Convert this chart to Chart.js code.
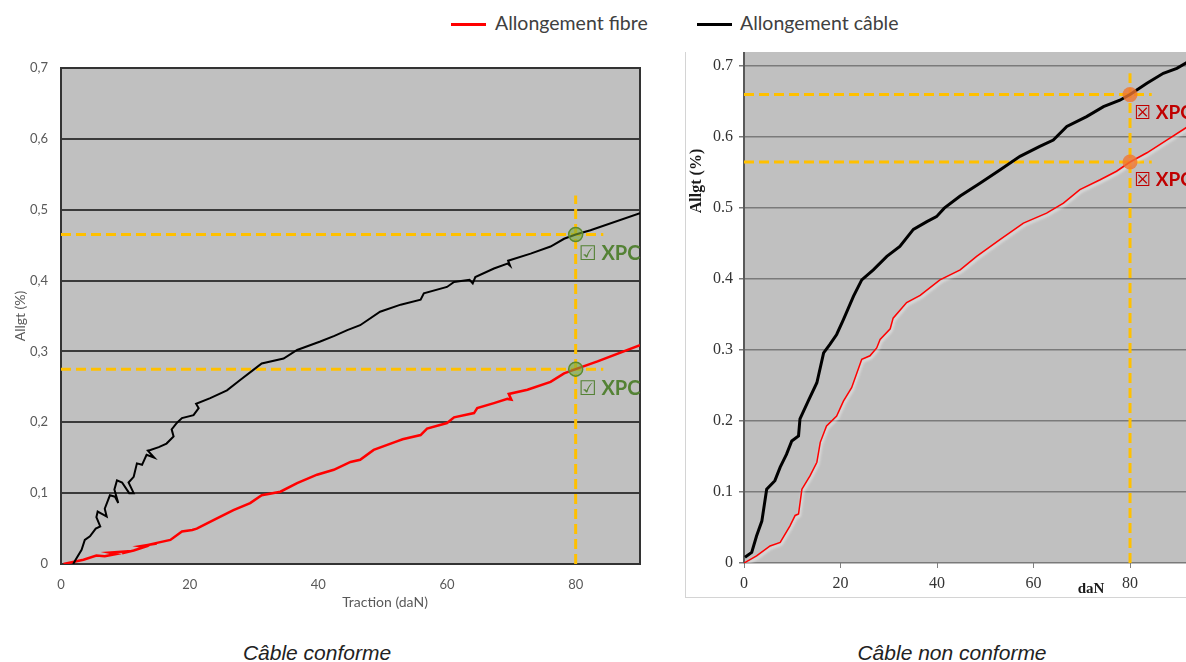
<!DOCTYPE html>
<html lang="fr">
<head>
<meta charset="utf-8">
<title>Allongement fibre / câble</title>
<script src="https://cdn.jsdelivr.net/npm/chart.js@4.4.1/dist/chart.umd.min.js"></script>
<style>
  html, body { margin: 0; padding: 0; background: #fff; }
  #page { position: relative; width: 1186px; height: 662px; overflow: hidden; }
  .legend-line { position: absolute; top: 23px; width: 35px; height: 3px; }
  .legend-text { position: absolute; top: 12px; font: 19.5px Lato, sans-serif; line-height: 22px; color: #404040; white-space: nowrap; }
  .caption { position: absolute; top: 641px; width: 400px; text-align: center; font: italic 21px "Liberation Sans", Arial, sans-serif; line-height: 24px; color: #222; }
  #leftBox { position: absolute; left: 0; top: 50px; width: 660px; height: 565px; }
  #rightFrame { position: absolute; left: 685px; top: 52px; width: 501px; height: 545px; border-left: 1px solid #d4d4d4; border-bottom: 1px solid #d4d4d4; }
  #rightBox { position: absolute; left: 686px; top: 52px; width: 500px; height: 545px; }
</style>
</head>
<body>
<div id="page">
  <div class="legend-line" style="left:451px; background:#ff0000;"></div>
  <div class="legend-text" style="left:495px;">Allongement fibre</div>
  <div class="legend-line" style="left:697px; background:#000;"></div>
  <div class="legend-text" style="left:740px;">Allongement câble</div>

  <div id="leftBox"><canvas id="chartConforme"></canvas></div>
  <div id="rightFrame"></div>
  <div id="rightBox"><canvas id="chartNonConforme"></canvas></div>

  <div class="caption" style="left:117px;">Câble conforme</div>
  <div class="caption" style="left:752px;">Câble non conforme</div>
</div>

<script>
// ===== DONNÉES =====
const tractionTicks = [0, 20, 40, 60, 80];
const allgtTicks = [0, 0.1, 0.2, 0.3, 0.4, 0.5, 0.6, 0.7];
const seuilTraction = 80;

// Câble conforme
const cableConformeX = [1.9, 2.2, 3.2, 3.7, 4.5, 5.4, 6.1, 5.5, 5.7, 6.5, 7.1, 6.8, 7.6, 8.4, 8.9, 8.3, 8.7, 9.5, 10.6, 11.3, 10.5, 11.3, 11.8, 12.6, 13.3, 14.5, 13.5, 13.9, 15.2, 16.4, 17.5, 17.2, 18.0, 18.8, 20.6, 21.4, 21.0, 23.2, 25.8, 27.9, 29.9, 31.2, 34.6, 36.7, 40.3, 42.5, 44.5, 46.5, 49.6, 52.8, 55.9, 56.4, 60.0, 61.1, 63.5, 64.0, 64.4, 67.3, 69.4, 69.8, 69.5, 73.0, 76.1, 78.2, 80.0, 82.3, 90.0];
const cableConformeY = [0, 0.005, 0.02, 0.034, 0.039, 0.05, 0.053, 0.066, 0.074, 0.07, 0.067, 0.078, 0.097, 0.095, 0.086, 0.105, 0.118, 0.115, 0.1, 0.1, 0.115, 0.123, 0.142, 0.14, 0.154, 0.15, 0.16, 0.161, 0.165, 0.17, 0.18, 0.19, 0.199, 0.206, 0.21, 0.22, 0.226, 0.234, 0.245, 0.26, 0.274, 0.283, 0.29, 0.302, 0.314, 0.322, 0.33, 0.337, 0.356, 0.366, 0.373, 0.382, 0.391, 0.398, 0.401, 0.396, 0.405, 0.417, 0.424, 0.421, 0.428, 0.438, 0.448, 0.459, 0.465, 0.471, 0.495];
const fibreConformeX = [0.4, 3.5, 5.5, 6.8, 8.5, 7.5, 10.5, 9.5, 11.3, 13.0, 12.3, 14.9, 13.5, 17.0, 18.8, 20.4, 21.1, 23.7, 26.8, 29.4, 31.2, 34.1, 36.7, 39.8, 42.4, 45.0, 46.5, 48.6, 52.2, 53.1, 55.9, 56.9, 60.0, 61.1, 64.2, 64.7, 67.3, 69.4, 70.0, 69.6, 72.5, 76.1, 78.2, 80.0, 83.4, 90.0];
const fibreConformeY = [0, 0.006, 0.012, 0.011, 0.014, 0.016, 0.018, 0.015, 0.019, 0.024, 0.025, 0.029, 0.027, 0.034, 0.046, 0.048, 0.05, 0.062, 0.076, 0.086, 0.097, 0.102, 0.114, 0.126, 0.133, 0.144, 0.147, 0.161, 0.173, 0.176, 0.182, 0.191, 0.199, 0.207, 0.213, 0.22, 0.227, 0.233, 0.232, 0.24, 0.246, 0.257, 0.269, 0.275, 0.286, 0.309];
const pointsConformeY = [0.465, 0.275];

// Câble non conforme
const cableNonConformeX = [0.2, 1.6, 2.6, 3.7, 4.7, 6.4, 7.5, 8.8, 9.9, 11.3, 11.6, 13.3, 15.1, 16.5, 17.8, 19.2, 20.6, 22.7, 24.4, 26.8, 29.6, 32.3, 35.1, 37.9, 39.9, 41.5, 44.8, 48.9, 53.1, 57.2, 61.3, 64.1, 66.9, 71.0, 74.5, 77.9, 80.0, 83.5, 86.9, 89.7, 92.0];
const cableNonConformeY = [0.008, 0.015, 0.038, 0.059, 0.104, 0.116, 0.135, 0.153, 0.172, 0.179, 0.203, 0.228, 0.254, 0.296, 0.308, 0.322, 0.343, 0.376, 0.399, 0.413, 0.432, 0.446, 0.47, 0.481, 0.488, 0.5, 0.517, 0.535, 0.554, 0.573, 0.587, 0.596, 0.615, 0.629, 0.643, 0.652, 0.66, 0.676, 0.69, 0.697, 0.706];
const fibreNonConformeX = [0, 2.6, 5.4, 7.5, 9.5, 10.6, 11.3, 12.0, 13.7, 15.1, 15.8, 17.1, 19.2, 20.6, 22.3, 24.4, 26.1, 27.5, 28.2, 30.3, 30.9, 33.7, 36.5, 40.6, 44.8, 48.2, 53.1, 57.9, 62.7, 66.2, 69.6, 73.8, 77.2, 80.0, 83.5, 87.6, 92.0];
const fibreNonConformeY = [0, 0.01, 0.024, 0.029, 0.052, 0.067, 0.069, 0.104, 0.123, 0.142, 0.17, 0.193, 0.207, 0.228, 0.247, 0.287, 0.292, 0.303, 0.315, 0.33, 0.345, 0.367, 0.377, 0.399, 0.413, 0.432, 0.456, 0.479, 0.493, 0.507, 0.526, 0.54, 0.552, 0.565, 0.578, 0.596, 0.615];
const pointsNonConformeY = [0.66, 0.565];

// ===== HELPERS =====
function toXY(xs, ys) {
  return xs.map((x, i) => ({ x: x, y: ys[i] }));
}

function seuilY(values) {
  return values.map((v) => ({ x: seuilTraction, y: v }));
}

function guideDatasets(seuils, topY, endX) {
  const style = { borderColor: "#ffc000", borderWidth: 3, borderDash: [10, 5], pointRadius: 0, order: 2 };
  const sets = seuils.map((v) => Object.assign({ data: [{ x: 0, y: v }, { x: endX, y: v }] }, style));
  sets.push(Object.assign({ data: [{ x: seuilTraction, y: 0 }, { x: seuilTraction, y: topY }] }, style));
  return sets;
}

// fond gris + cadre de la zone de tracé
function plotFrame(bg, border, width) {
  return {
    id: "plotFrame",
    beforeDraw(chart) {
      const a = chart.chartArea;
      chart.ctx.save();
      chart.ctx.fillStyle = bg;
      chart.ctx.fillRect(a.left, a.top, a.right - a.left, a.bottom - a.top);
      chart.ctx.restore();
    },
    beforeDatasetsDraw(chart) {
      if (!border) return;
      const a = chart.chartArea;
      chart.ctx.save();
      chart.ctx.strokeStyle = border;
      chart.ctx.lineWidth = width;
      chart.ctx.strokeRect(a.left, a.top, a.right - a.left, a.bottom - a.top);
      chart.ctx.restore();
    },
  };
}

// ombre claire sous la courbe fibre (graphique de droite)
const glowPlugin = {
  id: "glow",
  beforeDatasetDraw(chart, args) {
    if (!chart.data.datasets[args.index].glow) return;
    const ctx = chart.ctx;
    ctx.save();
    ctx.shadowColor = "rgba(245,245,245,0.95)";
    ctx.shadowOffsetX = 1;
    ctx.shadowOffsetY = 2;
    ctx.shadowBlur = 3;
  },
  afterDatasetDraw(chart, args) {
    if (chart.data.datasets[args.index].glow) chart.ctx.restore();
  },
};

// étiquettes "XPC" à côté des points de contrôle
const xpcPlugin = {
  id: "xpc",
  afterDatasetsDraw(chart) {
    const ctx = chart.ctx;
    chart.data.datasets.forEach((ds, i) => {
      if (!ds.xpcText) return;
      ctx.save();
      ctx.font = ds.xpcFont;
      ctx.fillStyle = ds.xpcColor;
      ctx.textBaseline = "middle";
      chart.getDatasetMeta(i).data.forEach((pt) => {
        ctx.fillText(ds.xpcText, pt.x + ds.xpcDx, pt.y + ds.xpcDy);
      });
      ctx.restore();
    });
  },
};

// titres d'axes placés librement
function axisTexts(list) {
  return {
    id: "axisTexts",
    afterDraw(chart) {
      const ctx = chart.ctx;
      list.forEach((t) => {
        ctx.save();
        ctx.translate(t.x, t.y);
        if (t.rotate) ctx.rotate(t.rotate);
        ctx.font = t.font;
        ctx.fillStyle = t.color;
        ctx.textAlign = "center";
        ctx.textBaseline = "middle";
        ctx.fillText(t.text, 0, 0);
        ctx.restore();
      });
    },
  };
}

function fixedTicks(values) {
  return (scale) => {
    scale.ticks = values.map((v) => ({ value: v }));
  };
}

function noPadding(scale) {
  scale.paddingTop = 0;
  scale.paddingBottom = 0;
  scale.paddingLeft = 0;
  scale.paddingRight = 0;
}

Chart.defaults.font.family = "Lato";
Chart.defaults.animation = false;
Chart.defaults.plugins.legend.display = false;
Chart.defaults.plugins.tooltip.enabled = false;

// ===== GRAPHIQUE CONFORME =====
function initChartConforme() {
  const ctx = document.getElementById("chartConforme").getContext("2d");
  new Chart(ctx, {
    type: "line",
    data: {
      datasets: [
        {
          data: seuilY(pointsConformeY),
          showLine: false,
          pointRadius: 7,
          pointBackgroundColor: "rgba(120,170,60,0.6)",
          pointBorderColor: "#5b8a2e",
          pointBorderWidth: 1.5,
          order: 0,
          xpcText: "☑ XPC",
          xpcFont: 'bold 20px Lato, "DejaVu Sans"',
          xpcColor: "#548235",
          xpcDx: 3,
          xpcDy: 19,
        },
        { label: "Allongement câble", data: toXY(cableConformeX, cableConformeY), borderColor: "#000", borderWidth: 2, pointRadius: 0, tension: 0, order: 1 },
        { label: "Allongement fibre", data: toXY(fibreConformeX, fibreConformeY), borderColor: "#ff0000", borderWidth: 2.5, pointRadius: 0, tension: 0, order: 1 },
        ...guideDatasets(pointsConformeY, 0.52, 84.3),
      ],
    },
    options: {
      responsive: true,
      maintainAspectRatio: false,
      layout: { autoPadding: false, padding: { top: 18, right: 20, bottom: 0, left: 0 } },
      scales: {
        x: {
          type: "linear",
          min: 0,
          max: 90,
          afterBuildTicks: fixedTicks(tractionTicks),
          afterFit: (s) => { s.height = 51; noPadding(s); },
          grid: { display: false, drawTicks: false },
          border: { display: true, color: "#333", width: 2 },
          ticks: { padding: 13, color: "#595959", font: { size: 13 } },
        },
        y: {
          min: 0,
          max: 0.7,
          afterBuildTicks: fixedTicks(allgtTicks),
          afterFit: (s) => { s.width = 61; noPadding(s); },
          grid: { color: "#3a3a3a", lineWidth: 2, drawTicks: false },
          border: { display: true, color: "#333", width: 2 },
          ticks: {
            padding: 13,
            color: "#595959",
            font: { size: 13 },
            callback: (v) => (v === 0 ? "0" : v.toFixed(1).replace(".", ",")),
          },
          title: { display: true, text: "Allgt (%)", color: "#595959", font: { size: 14 }, padding: { top: 12, bottom: 0 } },
        },
      },
    },
    plugins: [
      plotFrame("#c0c0c0", "#333", 2),
      xpcPlugin,
      axisTexts([{ text: "Traction (daN)", x: 385, y: 552, font: "14px Lato", color: "#595959" }]),
    ],
  });
}

// ===== GRAPHIQUE NON CONFORME =====
function initChartNonConforme() {
  const ctx = document.getElementById("chartNonConforme").getContext("2d");
  new Chart(ctx, {
    type: "line",
    data: {
      datasets: [
        {
          data: seuilY(pointsNonConformeY),
          showLine: false,
          pointRadius: 7.5,
          pointBackgroundColor: "rgba(240,118,48,0.8)",
          pointBorderWidth: 0,
          order: 0,
          xpcText: "☒ XPC",
          xpcFont: 'bold 19px Lato, "DejaVu Sans"',
          xpcColor: "#c00000",
          xpcDx: 4,
          xpcDy: 18,
        },
        { label: "Allongement câble", data: toXY(cableNonConformeX, cableNonConformeY), borderColor: "#000", borderWidth: 3, pointRadius: 0, tension: 0, order: 1 },
        { label: "Allongement fibre", data: toXY(fibreNonConformeX, fibreNonConformeY), borderColor: "#ff0000", borderWidth: 1.5, pointRadius: 0, tension: 0, order: 1, glow: true },
        ...guideDatasets(pointsNonConformeY, 0.69, 84.5),
      ],
    },
    options: {
      responsive: true,
      maintainAspectRatio: false,
      layout: { autoPadding: false, padding: 0 },
      scales: {
        x: {
          type: "linear",
          min: 0,
          max: 91.6,
          afterBuildTicks: fixedTicks(tractionTicks),
          afterFit: (s) => { s.height = 34; noPadding(s); },
          grid: { display: true, drawOnChartArea: false, drawTicks: true, tickLength: 5, color: "#808080" },
          border: { display: false },
          ticks: { padding: 6, color: "#333", font: { family: "Liberation Serif", size: 16 } },
        },
        y: {
          min: 0,
          max: 0.72,
          afterBuildTicks: fixedTicks(allgtTicks),
          afterFit: (s) => { s.width = 58; noPadding(s); },
          grid: { color: "#7a7a7a", lineWidth: 1.5, tickLength: 5 },
          border: { display: true, color: "#595959", width: 2 },
          ticks: {
            padding: 6,
            color: "#333",
            font: { family: "Liberation Serif", size: 16 },
            callback: (v) => (v === 0 ? "0" : v.toFixed(1)),
          },
        },
      },
    },
    plugins: [
      plotFrame("#c0c0c0", null, 0),
      glowPlugin,
      xpcPlugin,
      axisTexts([
        { text: "Allgt (%)", x: 11, y: 129, rotate: -Math.PI / 2, font: 'bold 16px "Liberation Serif"', color: "#1a1a1a" },
        { text: "daN", x: 405, y: 537, font: 'bold 15px "Liberation Serif"', color: "#1a1a1a" },
      ]),
    ],
  });
}

// ===== DOCUMENT READY =====
document.addEventListener("DOMContentLoaded", function () {
  if (typeof Chart !== "undefined") {
    initChartConforme();
    initChartNonConforme();
  }
});
</script>
</body>
</html>
